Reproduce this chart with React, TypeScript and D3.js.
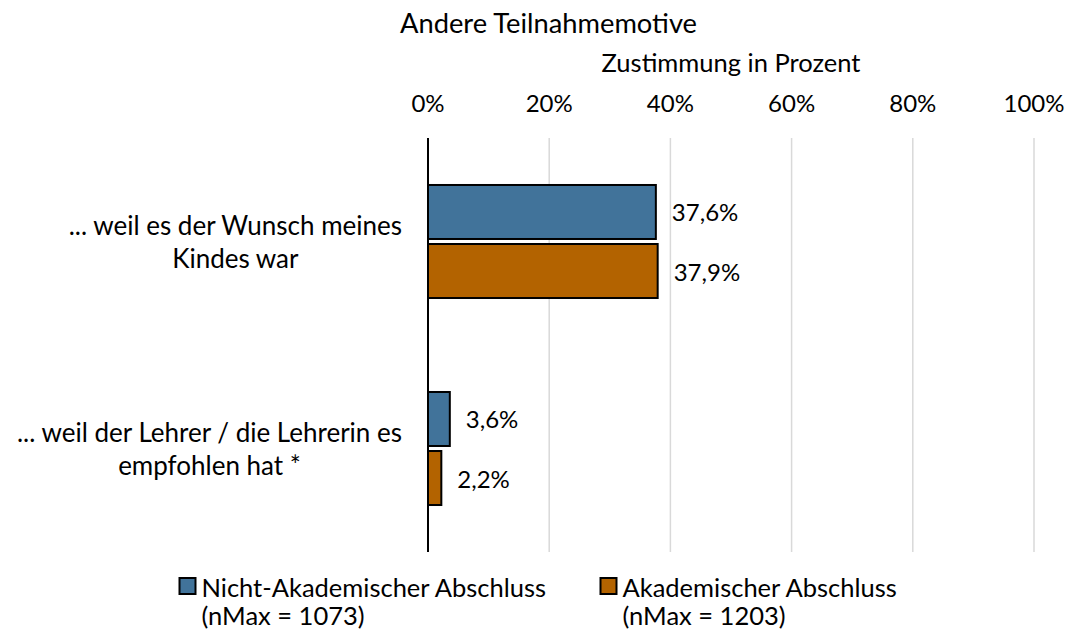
import React, { useEffect, useRef } from "react";
import * as d3 from "d3";

const categories = [
  ["... weil es der Wunsch meines", "Kindes war"],
  ["... weil der Lehrer / die Lehrerin es", "empfohlen hat *"],
];
const seriesNames = ["Nicht-Akademischer Abschluss", "Akademischer Abschluss"];
const seriesN = ["(nMax = 1073)", "(nMax = 1203)"];
const seriesColors = ["#41739a", "#b36300"];
const valuesNonAcad = [37.6, 3.6];
const valuesAcad = [37.9, 2.2];
const tickValues = [0, 20, 40, 60, 80, 100];
const title = "Andere Teilnahmemotive";
const axisTitle = "Zustimmung in Prozent";

const W = 1068;
const H = 633;
const FONT = "Lato, sans-serif";
const FS = 25.5;
const FS_CAT = 26;
const FS_TITLE = 27.3;
const FS_TICK = 24;

export default function App() {
  const ref = useRef<SVGSVGElement>(null);
  useEffect(() => {
    const svg = d3.select(ref.current);
    svg.selectAll("*").remove();
    const x = d3.scaleLinear().domain([0, 100]).range([428, 1034]);
    const y0 = d3
      .scaleBand<number>()
      .domain(categories.map((_, i) => i))
      .range([138, 552])
      .paddingInner(0.454)
      .paddingOuter(0.227);
    const y1 = d3
      .scaleBand<number>()
      .domain([0, 1])
      .range([0, y0.bandwidth()])
      .paddingInner(0.085);
    const data = [valuesNonAcad, valuesAcad];
    const g = svg.append("g").attr("font-family", FONT).attr("font-size", FS).attr("fill", "#000");

    g.append("text").attr("x", 400).attr("y", 22).attr("font-size", FS_TITLE).attr("dominant-baseline", "central").text(title);
    g.append("text").attr("x", 731).attr("y", 62).attr("text-anchor", "middle").attr("dominant-baseline", "central").text(axisTitle);

    g.selectAll(".tick")
      .data(tickValues)
      .join("text")
      .attr("x", (d) => x(d))
      .attr("y", 102)
      .attr("font-size", FS_TICK)
      .attr("text-anchor", "middle")
      .attr("dominant-baseline", "central")
      .text((d) => d + "%");

    g.selectAll(".grid")
      .data(tickValues.slice(1))
      .join("line")
      .attr("x1", (d) => x(d))
      .attr("x2", (d) => x(d))
      .attr("y1", 138)
      .attr("y2", 552)
      .attr("stroke", "#d9d9d9")
      .attr("stroke-width", 1.5);

    categories.forEach((_, ci) => {
      data.forEach((vals, si) => {
        const top = (y0(ci) as number) + (y1(si) as number);
        const v = vals[ci];
        g.append("rect")
          .attr("x", x(0))
          .attr("y", top)
          .attr("width", x(v) - x(0))
          .attr("height", y1.bandwidth())
          .attr("fill", seriesColors[si])
          .attr("stroke", "#000")
          .attr("stroke-width", 2);
        g.append("text")
          .attr("x", x(v) + 16)
          .attr("y", top + y1.bandwidth() / 2)
          .attr("font-size", FS_TICK)
          .attr("dominant-baseline", "central")
          .text(v.toFixed(1).replace(".", ",") + "%");
      });
    });

    g.append("line")
      .attr("x1", x(0))
      .attr("x2", x(0))
      .attr("y1", 138)
      .attr("y2", 552)
      .attr("stroke", "#000")
      .attr("stroke-width", 2);

    categories.forEach((lines, ci) => {
      const c = (y0(ci) as number) + y0.bandwidth() / 2;
      const texts = lines.map((l, li) =>
        g
          .append("text")
          .attr("x", 0)
          .attr("y", c + (li - (lines.length - 1) / 2) * 33)
          .attr("font-size", FS_CAT)
          .attr("text-anchor", "middle")
          .attr("dominant-baseline", "central")
          .text(l)
      );
      const maxW = d3.max(texts, (t) => (t.node() as SVGTextElement).getComputedTextLength()) || 0;
      texts.forEach((t) => t.attr("x", 402 - maxW / 2));
    });

    const legX = [179.5, 600.5];
    seriesNames.forEach((name, si) => {
      g.append("rect")
        .attr("x", legX[si])
        .attr("y", 578)
        .attr("width", 16)
        .attr("height", 16)
        .attr("fill", seriesColors[si])
        .attr("stroke", "#000")
        .attr("stroke-width", 2);
      g.append("text").attr("x", legX[si] + 22).attr("y", 587).attr("dominant-baseline", "central").text(name);
      g.append("text").attr("x", legX[si] + 22).attr("y", 615).attr("dominant-baseline", "central").text(seriesN[si]);
    });
  }, []);
  return <svg ref={ref} width={W} height={H} style={{ position: "absolute", left: 0, top: 0, background: "#fff" }} />;
}
